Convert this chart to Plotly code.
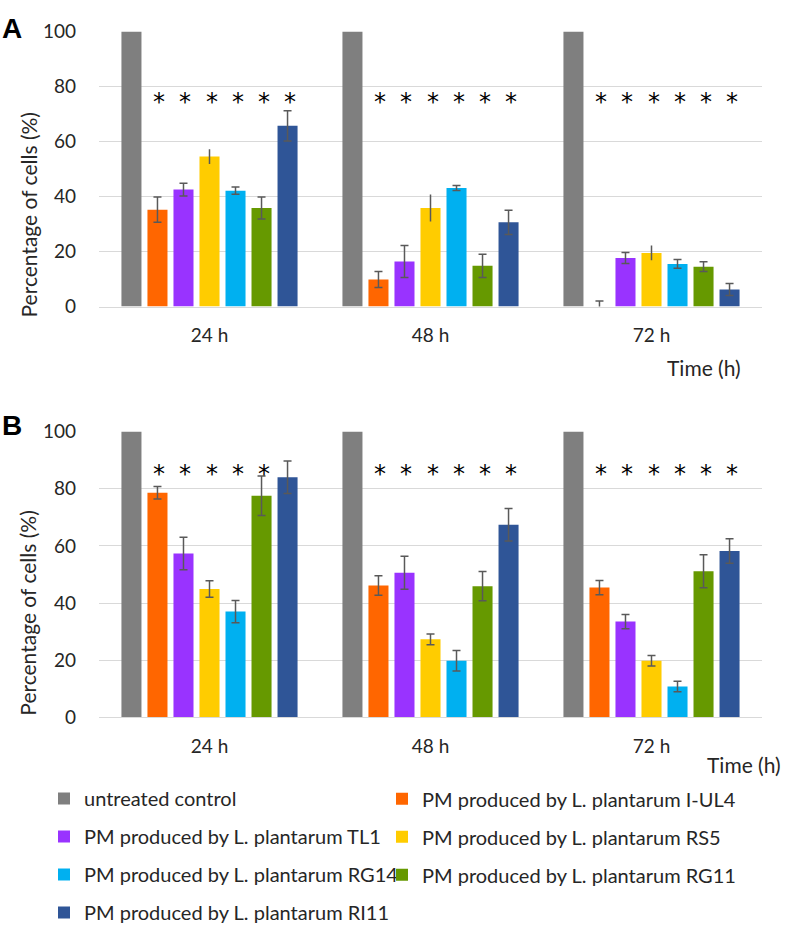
import plotly.graph_objects as go

W, H = 787, 932

times = ["24 h", "48 h", "72 h"]
series_names = [
    "untreated control",
    "PM produced by L. plantarum I-UL4",
    "PM produced by L. plantarum TL1",
    "PM produced by L. plantarum RS5",
    "PM produced by L. plantarum RG14",
    "PM produced by L. plantarum RG11",
    "PM produced by L. plantarum RI11",
]
colors = ["#7f7f7f", "#ff6600", "#9933ff", "#ffcc00", "#00b0f0", "#669900", "#2f5597"]

# Panel A values (24 h, 48 h, 72 h)
a_control = [100, 100, 100]
a_iul4 = [35.2, 9.8, 0.0]
a_tl1 = [42.5, 16.4, 17.6]
a_rs5 = [54.5, 35.8, 19.5]
a_rg14 = [42.1, 43.1, 15.5]
a_rg11 = [35.8, 14.8, 14.5]
a_ri11 = [65.7, 30.6, 6.2]
a_err_iul4 = [4.6, 2.9, 2.0]
a_err_tl1 = [2.3, 5.8, 2.0]
a_err_rs5 = [2.7, 4.9, 2.7]
a_err_rg14 = [1.3, 0.9, 1.6]
a_err_rg11 = [4.0, 4.2, 1.8]
a_err_ri11 = [5.5, 4.4, 2.2]

# Panel B values
b_control = [100, 100, 100]
b_iul4 = [78.6, 46.1, 45.4]
b_tl1 = [57.3, 50.6, 33.5]
b_rs5 = [44.9, 27.3, 19.8]
b_rg14 = [37.0, 19.8, 10.8]
b_rg11 = [77.5, 45.9, 51.1]
b_ri11 = [84.0, 67.4, 58.2]
b_err_iul4 = [2.2, 3.4, 2.5]
b_err_tl1 = [5.7, 5.8, 2.5]
b_err_rs5 = [2.9, 1.9, 1.8]
b_err_rg14 = [3.9, 3.6, 1.8]
b_err_rg11 = [6.9, 5.1, 5.8]
b_err_ri11 = [5.7, 5.7, 4.3]

# Significance markers: level and which bars (series index 1..6) per time point
a_star_level = 76
b_star_level = 87
a_star_series = [[1, 2, 3, 4, 5, 6], [1, 2, 3, 4, 5, 6], [1, 2, 3, 4, 5, 6]]
b_star_series = [[1, 2, 3, 4, 5], [1, 2, 3, 4, 5, 6], [1, 2, 3, 4, 5, 6]]

y_ticks = [0, 20, 40, 60, 80, 100]

a_vals = [a_control, a_iul4, a_tl1, a_rs5, a_rg14, a_rg11, a_ri11]
a_errs = [None, a_err_iul4, a_err_tl1, a_err_rs5, a_err_rg14, a_err_rg11, a_err_ri11]
b_vals = [b_control, b_iul4, b_tl1, b_rs5, b_rg14, b_rg11, b_ri11]
b_errs = [None, b_err_iul4, b_err_tl1, b_err_rs5, b_err_rg14, b_err_rg11, b_err_ri11]

FONT = "Lato"
TXT = "#262626"
GRID = "#d9d9d9"
ERRC = "#595959"

# layout geometry (pixels)
X0, X1 = 99, 762
A_TOP, A_BOT = 20, 304
B_TOP, B_BOT = 433, 728
BARGAP = 0.176
BARGROUPGAP = 0.23

fig = go.Figure()


def err(arr, cap=4):
    if arr is None:
        return dict(visible=False)
    return dict(type="data", array=arr, visible=True, color=ERRC, thickness=1.5, width=cap)


for i, name in enumerate(series_names):
    fig.add_trace(go.Bar(
        x=times, y=a_vals[i], name=name, marker_color=colors[i], marker_line_width=0,
        error_y=err(a_errs[i], cap=0 if i == 3 else 4), xaxis="x", yaxis="y",
        legend="legend" if i % 2 == 0 else "legend2", legendgroup=name,
        offsetgroup=str(i), showlegend=True,
    ))
for i, name in enumerate(series_names):
    fig.add_trace(go.Bar(
        x=times, y=b_vals[i], name=name, marker_color=colors[i], marker_line_width=0,
        error_y=err(b_errs[i]), xaxis="x2", yaxis="y2",
        legendgroup=name, offsetgroup=str(i), showlegend=False,
    ))

# asterisks positioned on the bar slots
cat_px = (X1 - X0) / len(times)
slot_px = cat_px * (1 - BARGAP) / len(series_names)
annotations = []
for panel, level, stars, xr, yr in [("A", a_star_level, a_star_series, "x", "y"),
                                     ("B", b_star_level, b_star_series, "x2", "y2")]:
    for ti, t in enumerate(times):
        for si in stars[ti]:
            annotations.append(dict(
                x=t, y=level, xref=xr, yref=yr, text="*", showarrow=False,
                xshift=(si - 3) * slot_px + 2, yshift=-5,
                font=dict(family="DejaVu Sans", size=24, color="#000000"),
            ))


def py(p):
    return 1 - p / H


def px(p):
    return p / W


# panel letters
annotations.append(dict(x=px(0), y=py(17), xref="paper", yref="paper", text="<b>A</b>",
                        showarrow=False, xanchor="left", yanchor="middle",
                        font=dict(family="Liberation Sans", size=28, color="#000000")))
annotations.append(dict(x=px(0), y=py(427), xref="paper", yref="paper", text="<b>B</b>",
                        showarrow=False, xanchor="left", yanchor="middle",
                        font=dict(family="Liberation Sans", size=28, color="#000000")))
# y axis titles
TITLE_SIZE = 21
annotations.append(dict(x=px(28), y=py(210), xref="paper", yref="paper",
                        text="Percentage of cells (%)", textangle=-90, showarrow=False,
                        xanchor="center", yanchor="middle",
                        font=dict(family=FONT, size=TITLE_SIZE, color=TXT)))
annotations.append(dict(x=px(28), y=py(621), xref="paper", yref="paper",
                        text="Percentage of cells (%)", textangle=-90, showarrow=False,
                        xanchor="center", yanchor="middle",
                        font=dict(family=FONT, size=TITLE_SIZE, color=TXT)))
# x axis titles
annotations.append(dict(x=px(743), y=py(367), xref="paper", yref="paper", text="Time (h)",
                        showarrow=False, xanchor="right", yanchor="middle",
                        font=dict(family=FONT, size=TITLE_SIZE, color=TXT)))
annotations.append(dict(x=px(783), y=py(777), xref="paper", yref="paper", text="Time (h)",
                        showarrow=False, xanchor="right", yanchor="middle",
                        font=dict(family=FONT, size=TITLE_SIZE, color=TXT)))

xcommon = dict(type="category", showgrid=False, showline=True, linecolor=GRID, linewidth=1,
               ticks="", tickfont=dict(family=FONT, size=19, color=TXT),
               ticklabelstandoff=12, fixedrange=True)
ycommon = dict(range=[0, 100], tickvals=y_ticks, showgrid=True, gridcolor=GRID, gridwidth=1,
               zeroline=False, showline=False, ticks="",
               tickfont=dict(family=FONT, size=19, color=TXT), ticklabelstandoff=22,
               fixedrange=True)

LEG_SIZE = 20
fig.update_layout(
    width=W, height=H,
    margin=dict(l=0, r=0, t=0, b=0),
    paper_bgcolor="white", plot_bgcolor="white",
    barmode="group", bargap=BARGAP, bargroupgap=BARGROUPGAP,
    xaxis=dict(domain=[px(X0), px(X1)], anchor="y", **xcommon),
    yaxis=dict(domain=[py(A_BOT), py(A_TOP)], anchor="x", **ycommon),
    xaxis2=dict(domain=[px(X0), px(X1)], anchor="y2", **xcommon),
    yaxis2=dict(domain=[py(B_BOT), py(B_TOP)], anchor="x2", **ycommon),
    legend=dict(x=px(44), y=py(792), xanchor="left", yanchor="top", orientation="v",
                font=dict(family=FONT, size=LEG_SIZE, color=TXT), tracegroupgap=9,
                bgcolor="rgba(0,0,0,0)", itemwidth=30, itemclick=False),
    legend2=dict(x=px(382), y=py(792), xanchor="left", yanchor="top", orientation="v",
                 font=dict(family=FONT, size=LEG_SIZE, color=TXT), tracegroupgap=9,
                 bgcolor="rgba(0,0,0,0)", itemwidth=30, itemclick=False),
    annotations=annotations,
    showlegend=True,
)

fig.write_html("out.html", config={"displayModeBar": False},
               post_script="document.body.style.margin='0';")
